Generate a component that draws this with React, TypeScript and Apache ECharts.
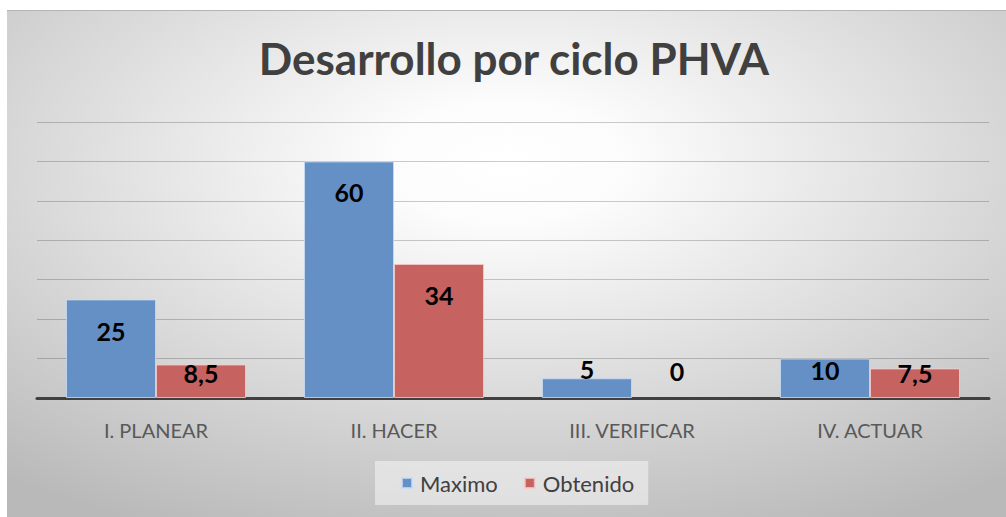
import React, { useEffect, useRef } from "react";
import * as echarts from "echarts";

const categories = ["I. PLANEAR", "II. HACER", "III. VERIFICAR", "IV. ACTUAR"];
const maximo = [25, 60, 5, 10];
const obtenido = [8.5, 34, 0, 7.5];
const seriesNames = ["Maximo", "Obtenido"];
const titleText = "Desarrollo por ciclo PHVA";

const maximoOffsets = [19, 18, -22, -1];
const obtenidoOffsets = [-4, 19, -40, -8];

const FONT = "Lato, 'Liberation Sans', sans-serif";

export default function App() {
  const ref = useRef<HTMLDivElement>(null);
  useEffect(() => {
    if (!ref.current) return;
    const chart = echarts.init(ref.current, null, { renderer: "svg" });
    const labelBase = {
      show: true,
      position: "insideTop",
      distance: 0,
      color: "#000000",
      fontFamily: FONT,
      fontWeight: "bold",
      fontSize: 25,
      formatter: (p: any) => String(p.value).replace(".", ","),
    };
    const mk = (vals: number[], offs: number[]) =>
      vals.map((v, i) => ({
        value: v,
        label: { offset: [0, offs[i]] },
        ...(v === 0 ? { itemStyle: { borderWidth: 0 } } : {}),
      }));
    chart.setOption({
      animation: false,
      graphic: [
        {
          type: "rect",
          z: -10,
          silent: true,
          shape: { x: 7, y: 10, width: 999, height: 507 },
          style: {
            fill: new echarts.graphic.RadialGradient(0.5, 0.3, 0.8, [
              { offset: 0, color: "#ffffff" },
              { offset: 0.15, color: "#fcfcfc" },
              { offset: 1, color: "#b9b9b9" },
            ]),
          },
        },
        {
          type: "line",
          z: -9,
          silent: true,
          shape: { x1: 7, y1: 10.5, x2: 1006, y2: 10.5 },
          style: { stroke: "#b4b4b4", lineWidth: 1 },
        },
      ],
      title: {
        text: titleText,
        left: 509,
        top: 31,
        textAlign: "center",
        textStyle: {
          fontFamily: FONT,
          fontWeight: "bold",
          fontSize: 44,
          color: "#404040",
        },
      },
      legend: {
        data: seriesNames,
        left: 375,
        top: 461,
        padding: [11, 14, 11, 26],
        backgroundColor: "rgba(245,245,245,0.55)",
        itemWidth: 10,
        itemHeight: 10,
        itemGap: 26,
        icon: "rect",
        textStyle: {
          fontFamily: FONT,
          fontSize: 22,
          color: "#404040",
          padding: [0, 0, 0, 3],
        },
      },
      grid: { left: 37, right: 17, top: 122, bottom: 119 },
      xAxis: {
        type: "category",
        data: categories,
        axisTick: { show: false },
        axisLine: { lineStyle: { color: "#404040", width: 3 } },
        axisLabel: {
          margin: 22,
          fontFamily: FONT,
          fontSize: 20,
          color: "#595959",
        },
      },
      yAxis: {
        type: "value",
        min: 0,
        max: 70,
        interval: 10,
        axisLabel: { show: false },
        axisLine: { show: false },
        axisTick: { show: false },
        splitLine: { lineStyle: { color: "rgba(0,0,0,0.2)", width: 1 } },
      },
      series: [
        {
          name: seriesNames[0],
          type: "bar",
          barWidth: 90,
          barGap: "0%",
          data: mk(maximo, maximoOffsets),
          itemStyle: {
            color: "#6590c6",
            borderColor: "rgba(200,220,245,0.8)",
            borderWidth: 1,
          },
          label: labelBase,
        },
        {
          name: seriesNames[1],
          type: "bar",
          barWidth: 90,
          barGap: "0%",
          data: mk(obtenido, obtenidoOffsets),
          itemStyle: {
            color: "#c6625f",
            borderColor: "rgba(245,205,205,0.8)",
            borderWidth: 1,
          },
          label: labelBase,
        },
      ],
    });
    return () => chart.dispose();
  }, []);
  return (
    <div
      ref={ref}
      style={{ position: "fixed", left: 0, top: 0, width: 1006, height: 517, background: "#ffffff" }}
    />
  );
}
